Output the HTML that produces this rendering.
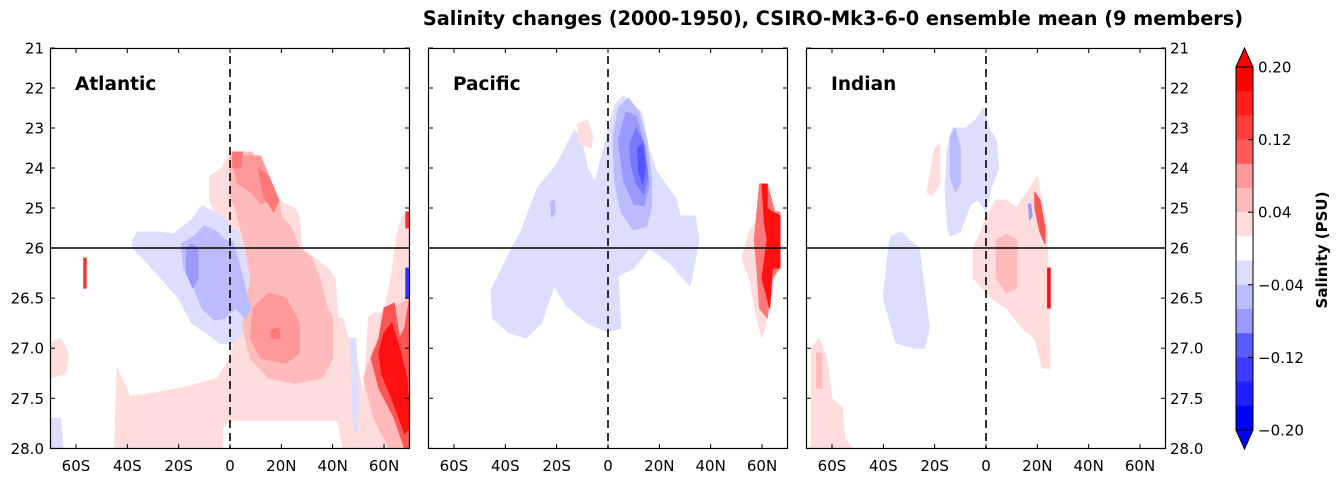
<!DOCTYPE html>
<html><head><meta charset="utf-8"><style>
html,body{margin:0;padding:0;background:#fff;width:1342px;height:483px;overflow:hidden}
svg text{font-family:"DejaVu Sans","Liberation Sans",sans-serif}
</style></head><body>
<svg id="fig" width="1342" height="483" viewBox="0 0 1342 483" xmlns="http://www.w3.org/2000/svg">
<text x="833" y="25" font-size="19.3" font-weight="bold" text-anchor="middle">Salinity changes (2000-1950), CSIRO-Mk3-6-0 ensemble mean (9 members)</text>
<g id="panels"></g>
<g id="cbar"></g>
<text transform="translate(1327,250) rotate(-90)" font-size="15" font-weight="bold" text-anchor="middle">Salinity (PSU)</text>
</svg>
<script>
const NS="http://www.w3.org/2000/svg";
const levelBounds=[-0.2,0.2];
const nBands=15;
const bandColors=["#0000ff","#1111ff","#3333ff","#5555ff","#7777ff","#9999ff","#bbbbff","#ddddff","#ffffff","#ffdddd","#ffbbbb","#ff9999","#ff7777","#ff5555","#ff3333","#ff1111","#ff0000"];
const cbarTicks=[0.20,0.12,0.04,-0.04,-0.12,-0.20];
const cbarTickLabels=["0.20","0.12","0.04","\u22120.04","\u22120.12","\u22120.20"];
const yTicks=[21,22,23,24,25,26,26.5,27.0,27.5,28.0];
const yTickLabels=["21","22","23","24","25","26","26.5","27.0","27.5","28.0"];
const xTicks=[-60,-40,-20,0,20,40,60];
const xTickLabels=["60S","40S","20S","0","20N","40N","60N"];
const basins=["Atlantic","Pacific","Indian"];
const atlanticBlobs=[
[1,[[-8,24.2],[-3,24.0],[0,23.6],[9,23.6],[15,24.3],[20,24.85],[25,25.0],[27,25.2],[28,26.0],[33,26.1],[38,26.2],[41,26.3],[42,26.7],[44,26.7],[46,26.9],[48,26.9],[50,27.2],[52,27.5],[54,26.7],[56,26.65],[60,26.65],[63,26.25],[65,25.7],[67,25.2],[70,25.2],[70,28],[44,28],[42,27.72],[20,27.72],[0,27.72],[-3,27.8],[-3,28],[-45,28],[-44,27.2],[-39,27.48],[-30,27.45],[-16,27.38],[-5,27.3],[0,27.1],[3,26.8],[5,26.55],[4,26.3],[1,26.0],[-2,25.7],[-5,25.3],[-8,24.8]]],
[1,[[-70,26.95],[-66,26.9],[-63,27.05],[-64,27.25],[-70,27.3]]],
[-1,[[-38,25.8],[-36,25.6],[-28,25.6],[-22,25.65],[-15,25.3],[-11,24.95],[-6,25.1],[-2,25.25],[0,25.5],[3,25.6],[5,26.0],[9,26.3],[11,26.6],[10,26.8],[5,26.85],[1,26.95],[-4,26.95],[-9,26.85],[-15,26.75],[-20,26.5],[-27,26.3],[-34,26.1],[-38,26.0]]],
[-1,[[47,26.9],[49,26.9],[50,27.5],[49.5,27.85],[48,27.8],[47.5,27.3]]],
[-1,[[-70,27.7],[-66,27.7],[-65,28],[-70,28]]],
[2,[[0,23.7],[8,23.6],[14,24.0],[19,24.8],[20,25.2],[24,25.5],[27,26],[32,26.1],[35,26.3],[38,26.6],[40,26.7],[40,27.1],[36,27.3],[25,27.35],[15,27.3],[8,27.1],[5,26.8],[6,26.6],[8,26.3],[6,26.0],[4,25.5],[2,25.0],[0,24.7]]],
[2,[[52,27.3],[56,27.0],[60,26.9],[64,26.6],[70,26.5],[70,28],[62,28],[56,27.7]]],
[3,[[9,26.6],[15,26.45],[22,26.5],[27,26.75],[27,27.05],[22,27.15],[12,27.1],[8,26.9]]],
[3,[[1,23.9],[5,23.7],[12,23.7],[15,24.2],[16,24.8],[12,24.9],[8,24.6],[3,24.4]]],
[4,[[11,24.0],[15,24.2],[19,24.8],[17,25.1],[13,24.7]]],
[4,[[1,23.6],[5,23.6],[4,24.0],[1,24.0]]],
[4,[[16,26.82],[19,26.8],[19.5,26.9],[16,26.9]]],
[5,[[55,27.1],[58,26.9],[60,26.6],[64,26.55],[66,26.9],[68,26.8],[70,26.5],[70,28],[68,28],[64,27.7],[58,27.4]]],
[7,[[58,27.05],[60,26.85],[63,26.75],[66,27.0],[69,27.3],[70,27.8],[68,27.85],[63,27.5],[59,27.25]]],
[-2,[[-19,25.9],[-14,25.7],[-10,25.45],[-5,25.6],[-2,25.8],[1,25.85],[3,26.1],[5,26.3],[8,26.6],[6,26.7],[2,26.6],[-2,26.7],[-6,26.72],[-11,26.6],[-14,26.4],[-18,26.2]]],
[-3,[[-17,26.0],[-15,25.9],[-12.5,26.0],[-12.5,26.3],[-14.5,26.4],[-17,26.25]]],
[6,[[68.5,25.1],[70,25.1],[70,25.5],[68.5,25.5]]],
[6,[[-57,26.1],[-56,26.1],[-56,26.4],[-57,26.4]]],
[-6,[[68.5,26.2],[69.5,26.2],[69.5,26.5],[68.5,26.5]]]
];
const pacificBlobs=[
[-1,[[-45.5,26.42],[-38.5,26.05],[-34,25.6],[-27.5,24.5],[-21,24.0],[-17.5,23.6],[-13,23.05],[-10,23.4],[-8,24.0],[-5,24.35],[-2.5,23.7],[0,23.05],[1.5,22.7],[3,22.4],[6,22.2],[13,22.6],[16,23.55],[19,24.1],[26.7,24.78],[28,25.2],[34,25.2],[35.5,25.8],[32,26.38],[24,26.15],[16.2,26.0],[10,26.2],[4,26.28],[5,26.8],[0,26.84],[-8,26.75],[-16,26.58],[-21,26.38],[-26,26.75],[-32,26.9],[-39,26.84],[-45,26.7]]],
[-2,[[2,23.2],[4,22.5],[8,22.25],[12,22.6],[15,23.3],[17,24.2],[17,25.0],[15,25.45],[10,25.55],[5,25.1],[2.5,24.3]]],
[-2,[[-22.5,24.85],[-21,24.8],[-20.5,25.1],[-22,25.25]]],
[-3,[[4,23.3],[7,22.6],[11,22.7],[14.5,23.5],[16,24.4],[14,24.95],[10,24.9],[6,24.3]]],
[-4,[[8.5,23.4],[11,23.0],[14,23.4],[15.5,24.2],[14,24.65],[11,24.4],[9,23.9]]],
[-5,[[11.5,23.5],[13.5,23.4],[14.5,24.0],[13.5,24.4],[12,24.1]]],
[1,[[-12,22.9],[-8,22.8],[-6,23.2],[-6.5,23.5],[-11,23.4]]],
[1,[[52,26.1],[55,25.6],[58,25.3],[60,25.0],[62,25.0],[64,25.4],[66,26.1],[63,26.6],[60,26.9],[58,26.7],[55,26.3]]],
[4,[[57,25.8],[59,24.4],[62,24.4],[65,25.1],[67,25.1],[67,26.2],[64,26.3],[62,26.7],[59,26.6],[58,26.2]]],
[7,[[60,24.4],[62,24.4],[62,25.0],[64,25.1],[67,25.2],[67,26.2],[64,26.2],[63,26.6],[60,26.3],[62,25.8],[61,25.4]]]
];
const indianBlobs=[
[-1,[[-15,25.5],[-16,24.5],[-15,23.5],[-13,23.0],[-8,23.0],[-4,22.8],[-1,22.5],[1,23.0],[4,23.3],[5,24.0],[2,24.5],[0,25.1],[-3,24.8],[-6,24.9],[-10,25.6],[-14,25.7]]],
[-2,[[-14,23.2],[-12,23.0],[-10,23.5],[-10,24.4],[-12,24.6],[-14,24.2]]],
[-1,[[-38,26.0],[-37,25.7],[-33,25.6],[-30,25.8],[-26,26.0],[-24,26.4],[-22,26.8],[-24,27.0],[-28,27.0],[-35,26.95],[-40,26.5]]],
[1,[[0,25.2],[4,24.8],[8,24.8],[12,25.0],[16,24.6],[20,24.2],[24,25.6],[24,26.0],[25,27.2],[22,27.2],[19,26.9],[14,26.8],[8,26.6],[2,26.5],[-5,26.3],[-5,26.0],[-2,25.6]]],
[1,[[-23,24.6],[-20,23.5],[-18,23.4],[-18,24.4],[-21,24.7]]],
[1,[[-68,27.0],[-65,26.9],[-62,27.1],[-60,27.5],[-56,27.6],[-55,27.9],[-52,28],[-68,28]]],
[2,[[4,25.8],[8,25.65],[12,25.8],[12,26.4],[8,26.45],[4,26.3]]],
[2,[[-66,27.05],[-64,27.05],[-64,27.4],[-66,27.4]]],
[5,[[19,24.6],[21,24.8],[23,25.5],[23,25.9],[21,25.6],[19,25.0]]],
[7,[[24,26.2],[25,26.2],[25,26.6],[24,26.6]]],
[-3,[[16.5,24.9],[17.5,24.9],[18,25.2],[17,25.3]]]
];
const allBlobs=[atlanticBlobs,pacificBlobs,indianBlobs];

const panelX=[50,428,806], panelW=360, panelTop=48, panelBot=449;
function yScale(d){ if(d<=26) return 248-(26-d)*40; return 248+(d-26)*100.2; }
function xScale(p,lat){ return panelX[p]+180+lat*2.567; }
function colorOf(level){ return bandColors[level+8]; }
function mk(tag,attrs,parent){const e=document.createElementNS(NS,tag);for(const k in attrs)e.setAttribute(k,attrs[k]);parent.appendChild(e);return e;}

const gp=document.getElementById('panels');
for(let p=0;p<3;p++){
  const g=mk('g',{},gp);
  
  
  const cid='clip'+p;
  const cp=mk('clipPath',{id:cid},g);
  mk('rect',{x:panelX[p],y:panelTop,width:panelW,height:panelBot-panelTop},cp);
  const field=mk('g',{'clip-path':'url(#'+cid+')'},g);
  
  
  const blobs=allBlobs[p].slice().sort((a,b)=>Math.abs(a[0])-Math.abs(b[0]));
  blobs.forEach(b=>{
    const pts=b[1].map(q=>xScale(p,q[0]).toFixed(1)+','+yScale(q[1]).toFixed(1)).join(' ');
    const poly=mk('polygon',{points:pts,fill:colorOf(b[0]),stroke:colorOf(b[0]),'stroke-width':'1','stroke-linejoin':'round'},field);
    
    
  });
  const h=mk('line',{x1:panelX[p],x2:panelX[p]+panelW,y1:yScale(26),y2:yScale(26),stroke:'#000','stroke-width':'1.6'},g);
  
  
  const v=mk('line',{x1:xScale(p,0),x2:xScale(p,0),y1:56,y2:panelBot,stroke:'#000','stroke-width':'1.6','stroke-dasharray':'8,5'},g);
  
  
  const fr=mk('rect',{x:panelX[p]+0.5,y:panelTop+0.5,width:panelW-1,height:panelBot-panelTop-1,fill:'none',stroke:'#000','stroke-width':'1.2'},g);
  
  
  yTicks.forEach((t,i)=>{
    const y=yScale(t);
    mk('line',{x1:panelX[p],x2:panelX[p]+5,y1:y,y2:y,stroke:'#000'},g);
    mk('line',{x1:panelX[p]+panelW-5,x2:panelX[p]+panelW,y1:y,y2:y,stroke:'#000'},g);
    if(p===0){const tx=mk('text',{x:44,y:y+5.5,'font-size':15,'text-anchor':'end'},g);tx.textContent=yTickLabels[i];
      }
    if(p===2){const tx=mk('text',{x:1170,y:y+5.5,'font-size':15,'text-anchor':'start'},g);tx.textContent=yTickLabels[i];
      }
  });
  xTicks.forEach((t,i)=>{
    const x=xScale(p,t);
    mk('line',{x1:x,x2:x,y1:panelBot,y2:panelBot-5,stroke:'#000'},g);
    mk('line',{x1:x,x2:x,y1:panelTop,y2:panelTop+5,stroke:'#000'},g);
    const tx=mk('text',{x:x,y:471,'font-size':15,'text-anchor':'middle'},g);tx.textContent=xTickLabels[i];
    
    
  });
  const lb=mk('text',{x:panelX[p]+25,y:90,'font-size':18.5,'font-weight':'bold'},g);
  lb.textContent=basins[p];
  
  
}
const cb=document.getElementById('cbar');
const cbx=1236,cbw=17,cbTop=67,cbBot=430;
function cbY(v){return cbTop+(levelBounds[1]-v)/(levelBounds[1]-levelBounds[0])*(cbBot-cbTop);}
const step=(levelBounds[1]-levelBounds[0])/nBands;
const bandSeq=["#ff0000","#ff1f1f","#ff3d3d","#ff5b5b","#ff9999","#ffbbbb","#ffdddd","#ffffff","#ddddff","#bbbbff","#9999ff","#5b5bff","#3d3dff","#1f1fff","#0000ff"];
for(let i=0;i<nBands;i++){
  const hi=levelBounds[1]-i*step, lo=hi-step;
  const r=mk('rect',{x:cbx,y:cbY(hi),width:cbw,height:cbY(lo)-cbY(hi)+0.5,fill:bandSeq[i]},cb);
  
  
}
const t1=mk('polygon',{points:`${cbx},${cbTop} ${cbx+cbw/2},48 ${cbx+cbw},${cbTop}`,fill:'#ff0000',stroke:'#000','stroke-width':'1'},cb);


const t2=mk('polygon',{points:`${cbx},${cbBot} ${cbx+cbw/2},449 ${cbx+cbw},${cbBot}`,fill:'#0000ff',stroke:'#000','stroke-width':'1'},cb);


mk('rect',{x:cbx,y:cbTop,width:cbw,height:cbBot-cbTop,fill:'none',stroke:'#000','stroke-width':'1'},cb);
cbarTicks.forEach((t,i)=>{
  const y=cbY(t);
  mk('line',{x1:cbx+cbw-5,x2:cbx+cbw,y1:y,y2:y,stroke:'#000'},cb);
  const tx=mk('text',{x:1258,y:y+5.5,'font-size':15},cb);
  tx.textContent=cbarTickLabels[i];
  
  
});
</script>
</body></html>
